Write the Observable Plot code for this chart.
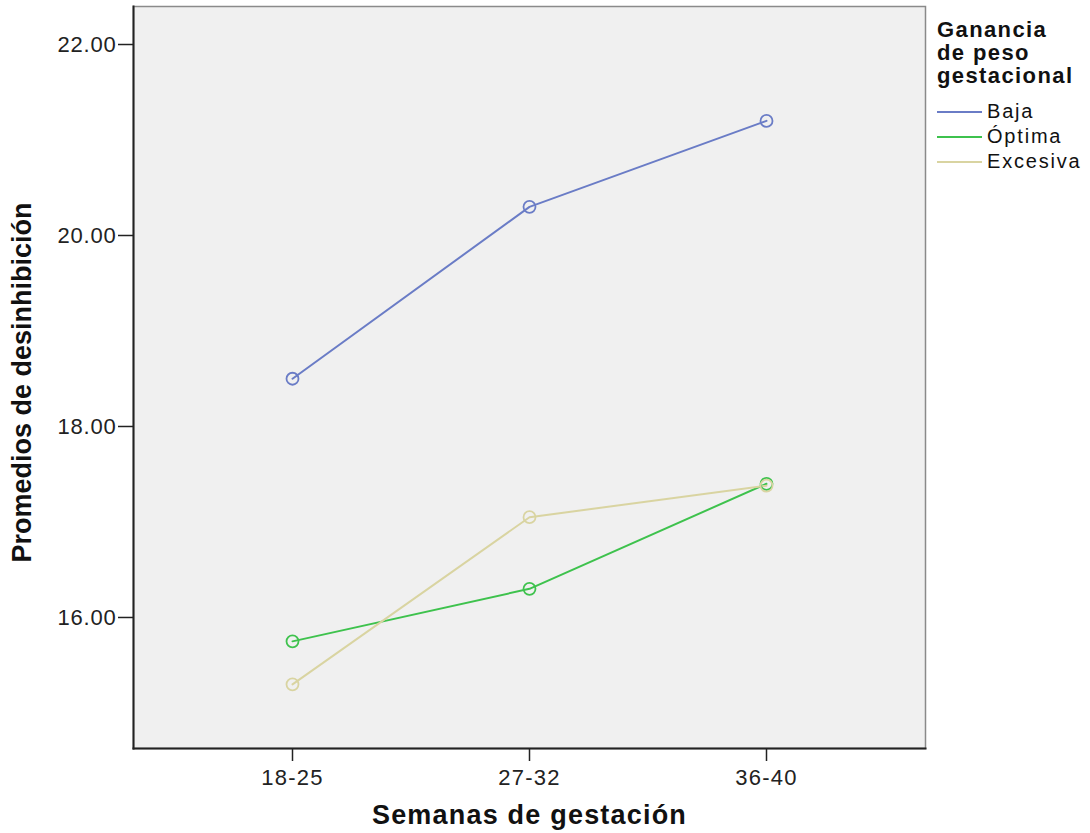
<!DOCTYPE html>
<html>
<head>
<meta charset="utf-8">
<script src="https://cdn.jsdelivr.net/npm/d3@7"></script>
<script src="https://cdn.jsdelivr.net/npm/@observablehq/plot@0.6"></script>
<style>
  html, body { margin: 0; padding: 0; background: #fff; }
  #wrap { position: relative; width: 1090px; height: 833px; font-family: "Liberation Sans", Arial, Helvetica, sans-serif; }
  #legend { position: absolute; left: 937px; top: 18px; color: #111; }
  #legend .title { font-weight: bold; font-size: 22px; line-height: 23px; letter-spacing: 1.4px; }
  #legend .item { display: flex; align-items: center; height: 25px; font-size: 20px; letter-spacing: 1.8px; }
  #legend .item svg { margin-right: 5px; }
</style>
</head>
<body>
<div id="wrap"></div>
<script>
const semanas = ["18-25", "27-32", "36-40"];
const grupos = ["Baja", "Óptima", "Excesiva"];
const baja = [18.5, 20.3, 21.2];
const optima = [15.75, 16.3, 17.4];
const excesiva = [15.3, 17.05, 17.38];
const colores = ["#6a7cc6", "#3ec24d", "#d9d4a1"];
const yTicks = [16, 18, 20, 22];
const tituloLeyenda = ["Ganancia", "de peso", "gestacional"];
const etiquetaX = "Semanas de gestación";
const etiquetaY = "Promedios de desinhibición";

const series = [baja, optima, excesiva];
const data = [];
series.forEach((vals, gi) => vals.forEach((v, i) => data.push({grupo: grupos[gi], semana: semanas[i], valor: v})));

const chart = Plot.plot({
  width: 1090,
  height: 833,
  marginLeft: 133,
  marginRight: 165,
  marginTop: 6,
  marginBottom: 85,
  style: {fontFamily: '"Liberation Sans", Arial, Helvetica, sans-serif', background: "#fff", color: "#222"},
  x: {type: "point", domain: semanas, padding: 0.667},
  y: {domain: [14.628, 22.398]},
  color: {domain: grupos, range: colores},
  marks: [
    Plot.frame({fill: "#f0f0f0", stroke: "#8a8a8a", strokeWidth: 1.5}),
    Plot.frame({anchor: "left", stroke: "#222", strokeWidth: 2}),
    Plot.frame({anchor: "bottom", stroke: "#222", strokeWidth: 2}),
    Plot.axisY({ticks: yTicks, tickFormat: d => d.toFixed(2), tickSize: 15, tickPadding: 2, fontSize: 22, label: null, stroke: "#222", strokeWidth: 1.5, color: "#222"}),
    Plot.axisX({tickSize: 13, tickPadding: 8, fontSize: 22, label: null, stroke: "#222", strokeWidth: 1.5, color: "#222"}),
    Plot.line(data, {x: "semana", y: "valor", z: "grupo", stroke: "grupo", strokeWidth: 2}),
    Plot.dot(data, {x: "semana", y: "valor", stroke: "grupo", r: 6, strokeWidth: 1.8, fill: "none"}),
    Plot.text([etiquetaY], {frameAnchor: "left", textAnchor: "middle", dx: -111, dy: 5, rotate: -90, fontSize: 27, fontWeight: "bold", fill: "#111"}),
    Plot.text([etiquetaX], {frameAnchor: "bottom", dy: 75, fontSize: 27, fontWeight: "bold", fill: "#111"})
  ]
});

const wrap = document.getElementById("wrap");
wrap.appendChild(chart);
d3.select(chart).selectAll('g[aria-label="y-axis tick label"] text').style("letter-spacing", "0.8px");
d3.select(chart).selectAll('g[aria-label="x-axis tick label"] text').style("letter-spacing", "1.2px");
d3.select(chart).selectAll('g[aria-label="text"] text').each(function() {
  const t = d3.select(this);
  if (t.text() === etiquetaX) t.style("letter-spacing", "1.2px");
});

const legend = document.createElement("div");
legend.id = "legend";
legend.innerHTML =
  tituloLeyenda.map(t => `<div class="title">${t}</div>`).join("") +
  `<div style="height:12px"></div>` +
  grupos.map((g, i) => `<div class="item"><svg width="45" height="4"><line x1="0" x2="45" y1="2" y2="2" stroke="${colores[i]}" stroke-width="2"/></svg><span>${g}</span></div>`).join("");
wrap.appendChild(legend);
</script>
</body>
</html>
